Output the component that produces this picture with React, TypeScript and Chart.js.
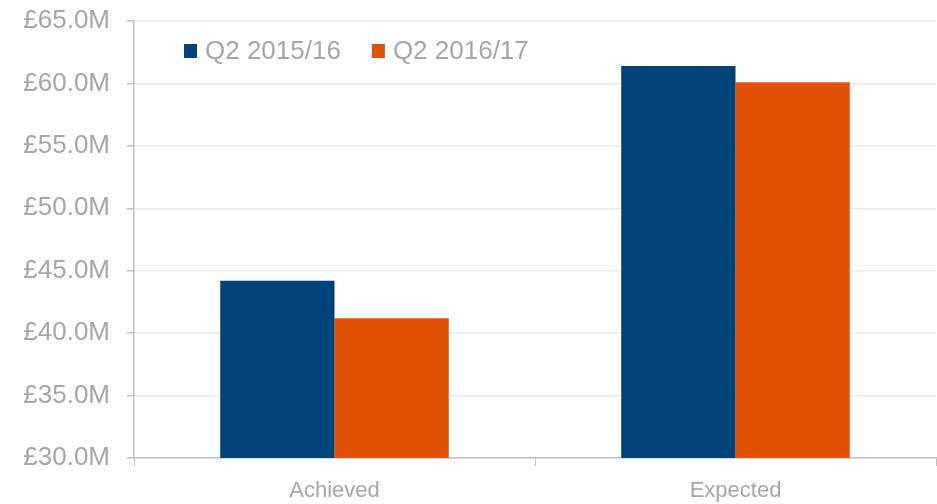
import React, { useEffect, useRef } from "react";
import { Chart, registerables } from "chart.js";

Chart.register(...registerables);

const categories = ["Achieved", "Expected"];
const seriesNames = ["Q2 2015/16", "Q2 2016/17"];
const series2015 = [44.2, 61.4];
const series2016 = [41.2, 60.1];
const colors = ["#004379", "#e05206"];
const yMin = 30;
const yMax = 65;
const yStep = 5;

const FONT = "'Liberation Sans', Arial, sans-serif";
const TEXT = "#a6a6a6";
const AXIS = "#bfbfbf";

const legendPlugin = {
  id: "insideLegend",
  afterDraw(chart: any) {
    const ctx = chart.ctx;
    const area = chart.chartArea;
    ctx.save();
    ctx.font = `26px ${FONT}`;
    ctx.textBaseline = "middle";
    ctx.textAlign = "left";
    let x = area.left + 50;
    const y = 51;
    chart.data.datasets.forEach((ds: any) => {
      ctx.fillStyle = ds.backgroundColor;
      ctx.fillRect(x, y - 7, 13, 14);
      ctx.fillStyle = TEXT;
      ctx.fillText(ds.label, x + 21, y + 1);
      x += 21 + ctx.measureText(ds.label).width + 31;
    });
    ctx.restore();
  },
};

export default function App() {
  const ref = useRef<HTMLCanvasElement>(null);
  useEffect(() => {
    if (!ref.current) return;
    const chart = new Chart(ref.current, {
      type: "bar",
      data: {
        labels: categories,
        datasets: [
          { label: seriesNames[0], data: series2015, backgroundColor: colors[0] },
          { label: seriesNames[1], data: series2016, backgroundColor: colors[1] },
        ],
      },
      options: {
        animation: false,
        responsive: false,
        maintainAspectRatio: false,
        layout: { padding: { top: 21, right: 1, left: 0, bottom: 0 } },
        datasets: { bar: { barPercentage: 1, categoryPercentage: 0.57, borderWidth: 0 } },
        plugins: { legend: { display: false }, tooltip: { enabled: false } },
        scales: {
          x: {
            offset: true,
            grid: { offset: true, drawOnChartArea: false, tickLength: 8, tickColor: AXIS, color: AXIS },
            border: { color: AXIS, width: 1.5 },
            ticks: { color: TEXT, font: { family: FONT, size: 22 }, padding: 12 },
            afterFit: (s: any) => { s.height = 46; s.paddingLeft = 0; s.paddingRight = 0; },
          },
          y: {
            min: yMin,
            max: yMax,
            grid: { color: "#ebebeb", tickLength: 7, tickColor: AXIS, lineWidth: 1.5 },
            border: { color: AXIS, width: 1.5 },
            ticks: {
              stepSize: yStep,
              color: TEXT,
              font: { family: FONT, size: 26 },
              padding: 17,
              callback: (v: any) => `£${Number(v).toFixed(1)}M`,
            },
            afterFit: (s: any) => { s.width = 134; s.paddingTop = 0; s.paddingBottom = 0; },
          },
        },
      },
      plugins: [legendPlugin],
    });
    return () => chart.destroy();
  }, []);
  return (
    <div style={{ position: "fixed", left: 0, top: 0, width: 937, height: 504, background: "#fff" }}>
      <canvas ref={ref} width={937} height={504} style={{ width: 937, height: 504 }} />
    </div>
  );
}
